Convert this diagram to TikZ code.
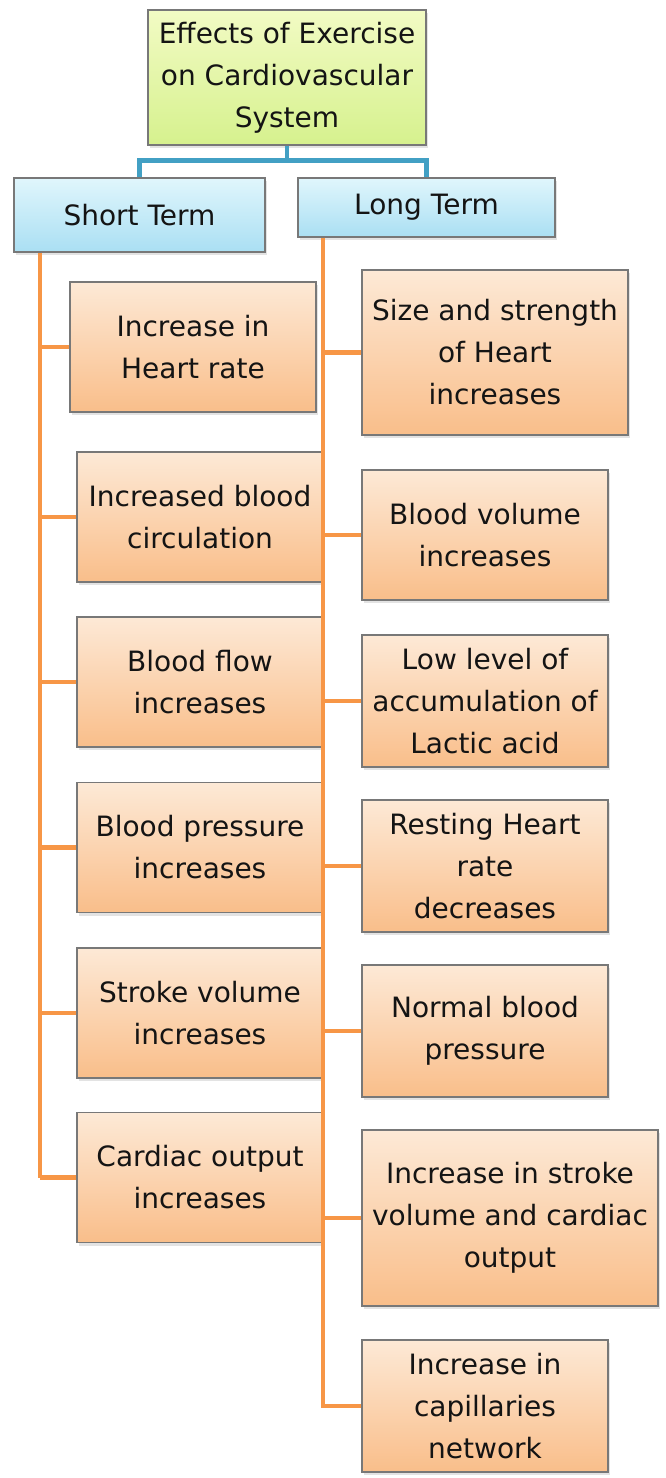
\documentclass[tikz,border=0pt]{standalone}
\usepackage{fontspec}
\setmainfont{DejaVu Sans}
\usetikzlibrary{shadows,calc}
\definecolor{peachtop}{RGB}{253,233,214}
\definecolor{peachbot}{RGB}{249,190,138}
\definecolor{skytop}{RGB}{224,246,252}
\definecolor{skybot}{RGB}{170,223,243}
\definecolor{limetop}{RGB}{242,251,196}
\definecolor{limebot}{RGB}{214,241,142}
\definecolor{branchorange}{RGB}{247,150,70}
\definecolor{branchblue}{RGB}{66,160,196}
\definecolor{boxedge}{RGB}{120,120,120}
\definecolor{inktext}{RGB}{20,20,20}

\begin{document}
\begin{tikzpicture}[x=1pt,y=-1pt,
  every node/.style={font=\fontsize{28}{42}\selectfont,text=inktext,align=center,inner sep=0pt},
  basebox/.style={draw=boxedge,line width=1.3pt,
    drop shadow={shadow xshift=2pt,shadow yshift=-3pt,opacity=0.22}},
  leafbox/.style={basebox,top color=peachtop,bottom color=peachbot},
  termbox/.style={basebox,top color=skytop,bottom color=skybot},
  rootbox/.style={basebox,top color=limetop,bottom color=limebot},
  orangeline/.style={draw=branchorange,line width=4.5pt},
  blueline/.style={draw=branchblue,line width=4.5pt}]
  \useasboundingbox (0,0) rectangle (665,1478);

  % root and the two terms
  \node[rootbox,minimum width=278,minimum height=135] (root) at (287,77.5)
    {Effects of Exercise\\on Cardiovascular\\System};
  \node[termbox,minimum width=251,minimum height=74] (st) at (139.5,215) {Short Term};
  \node[termbox,minimum width=257,minimum height=59] (lt) at (426.5,207.5) {Long Term};

  % short term effects
  \foreach \n/\x/\y/\txt in {
      1/193/347/{Increase in\\Heart rate},
      2/200/517/{Increased blood\\circulation},
      3/200/682/{Blood flow\\increases},
      4/200/847.5/{Blood pressure\\increases},
      5/200/1013/{Stroke volume\\increases},
      6/200/1177.5/{Cardiac output\\increases}}{
    \node[leafbox,minimum width=246,minimum height=130] (s\n) at (\x,\y) {\txt};
  }

  % long term effects
  \foreach \n/\x/\y/\w/\h/\txt in {
      1/495/352.5/266/165/{Size and strength\\of Heart\\increases},
      2/485/535/246/130/{Blood volume\\increases},
      3/485/701/246/132/{Low level of\\accumulation of\\Lactic acid},
      4/485/866/246/132/{Resting Heart\\rate\\decreases},
      5/485/1031/246/132/{Normal blood\\pressure},
      6/510/1218/296/176/{Increase in stroke\\volume and cardiac\\output},
      7/485/1406/246/132/{Increase in\\capillaries\\network}}{
    \node[leafbox,minimum width=\w,minimum height=\h] (l\n) at (\x,\y) {\txt};
  }

  % connectors
  \draw[blueline] (root.south) -- ++(0,15) -| (st.north);
  \draw[blueline] (root.south) -- ++(0,15) -| (lt.north);

  \coordinate (stend) at (40,1178);
  \coordinate (ltend) at (323,1408);
  \draw[orangeline] (st.south -| stend) -- (stend);
  \draw[orangeline] (lt.south -| ltend) -- (ltend);
  \foreach \n in {1,...,6}
    \draw[orangeline] (stend |- s\n.west) -- (s\n.west);
  \foreach \n in {1,...,7}
    \draw[orangeline] (ltend |- l\n.west) -- (l\n.west);
\end{tikzpicture}
\end{document}
